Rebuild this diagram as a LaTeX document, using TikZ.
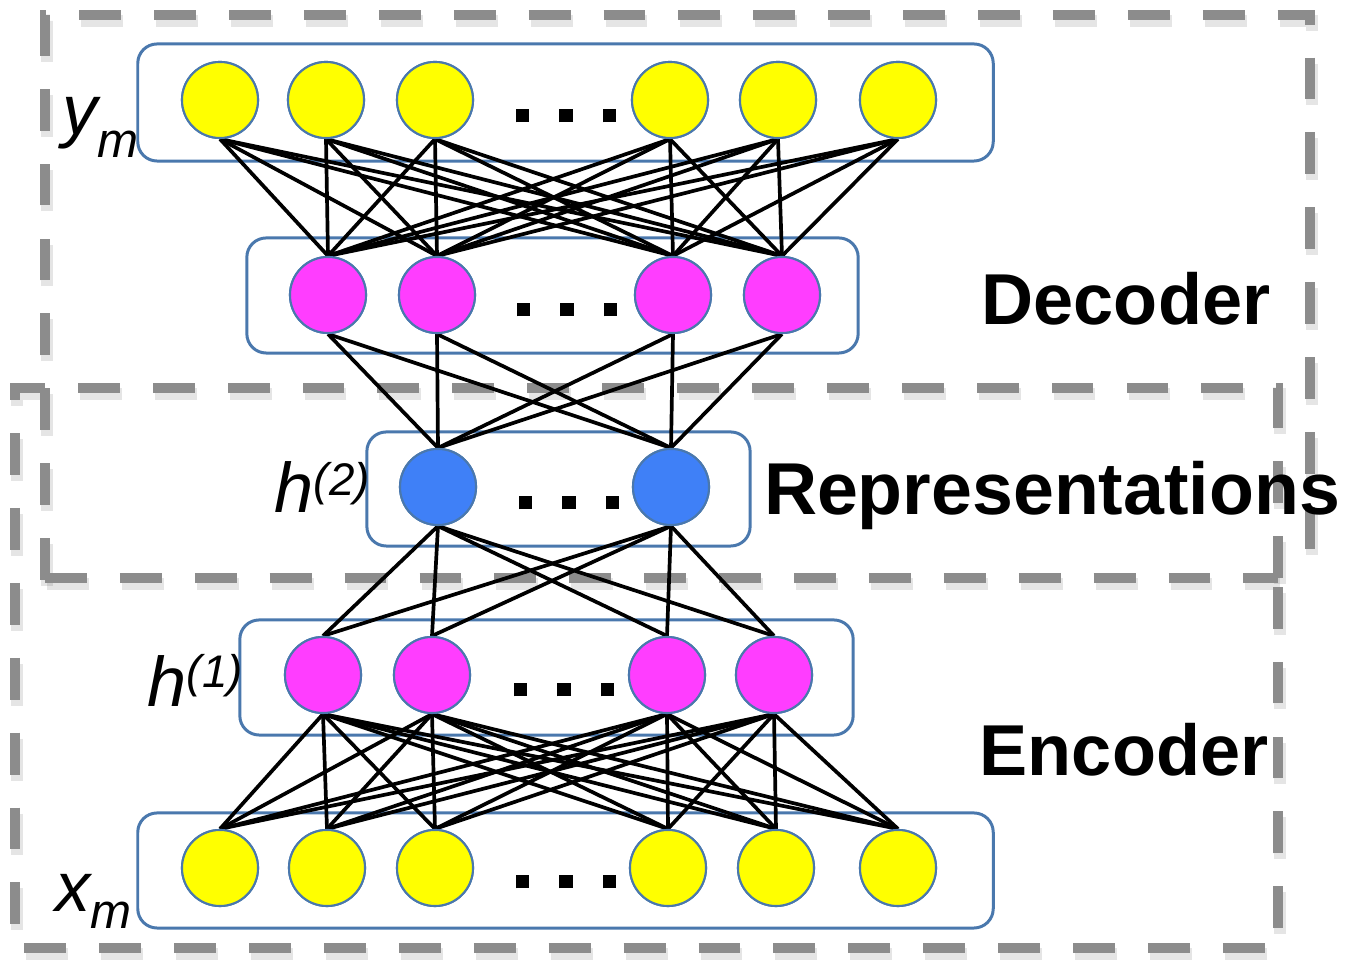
\documentclass[tikz,border=0pt]{standalone}
\usepackage{fontspec}
\setmainfont{Liberation Sans}

\definecolor{framegray}{HTML}{8C8C8C}
\definecolor{outline}{HTML}{4A78AD}
\definecolor{unityellow}{HTML}{FFFF00}
\definecolor{unitmagenta}{HTML}{FF3DFF}
\definecolor{unitblue}{HTML}{3F80F7}

% three square dots standing for the omitted units of a layer
\newcommand\ellipsisdots{\rule{3.7pt}{3.7pt}\hspace{8.6pt}\rule{3.7pt}{3.7pt}\hspace{8.6pt}\rule{3.7pt}{3.7pt}}

\begin{document}
\begin{tikzpicture}[x=0.01cm, y=-0.01cm,
  frame/.style={line width=2.85pt, draw=framegray, dash pattern=on 11.9pt off 9.4pt},
  frameshade/.style={line width=3.2pt, draw=black, opacity=0.10, dash pattern=on 11.9pt off 9.4pt},
  layerbox/.style={draw=outline, line width=0.85pt, rounded corners=5.5pt, inner sep=0pt},
  unit/.style={circle, draw=outline, line width=0.6pt, minimum size=0.76cm, inner sep=0pt},
  visible/.style={unit, fill=unityellow},
  hidden/.style={unit, fill=unitmagenta},
  code/.style={unit, fill=unitblue},
  link/.style={draw=black, line width=1.05pt},
  dots/.style={inner sep=0pt, anchor=center},
  section/.style={font=\fontsize{20.5}{24}\selectfont\bfseries, inner sep=0pt, anchor=base},
  varlabel/.style={font=\fontsize{20}{24}\selectfont\itshape, inner sep=0pt, anchor=base west}
]
\useasboundingbox (0,0) rectangle (1363,971);

% dashed group frames with a soft shade underneath
\begin{scope}[shift={(2,6)}]
  \draw[frameshade] (45,580) -- (45,15) -- (1310,15) -- (1310,580);
  \draw[frameshade] (1278,578) -- (1278,388) -- (15,388) -- (15,948) -- (1278,948) -- (1278,578);
  \draw[frameshade] (45,578) -- (1278,578);
\end{scope}
\draw[frame] (45,580) -- (45,15) -- (1310,15) -- (1310,580);
\draw[frame] (1278,578) -- (1278,388) -- (15,388) -- (15,948) -- (1278,948) -- (1278,578);
\draw[frame] (45,578) -- (1278,578);

% layer boxes
\node[layerbox, minimum width=8.55cm, minimum height=1.17cm] (outbox) at (565.5,102.5) {};
\node[layerbox, minimum width=6.11cm, minimum height=1.15cm] (decbox) at (552.5,295.5) {};
\node[layerbox, minimum width=3.83cm, minimum height=1.14cm] (repbox) at (558.5,489) {};
\node[layerbox, minimum width=6.13cm, minimum height=1.15cm] (encbox) at (546.5,677.5) {};
\node[layerbox, minimum width=8.55cm, minimum height=1.15cm] (inbox) at (565.5,870.5) {};

% unit positions
\coordinate (py1) at (220,100); \coordinate (py2) at (326,100); \coordinate (py3) at (435,100);
\coordinate (py4) at (670,100); \coordinate (py5) at (778,100); \coordinate (py6) at (898,100);
\coordinate (pd1) at (328,295); \coordinate (pd2) at (437,295); \coordinate (pd3) at (673,295); \coordinate (pd4) at (782,295);
\coordinate (pr1) at (438,487); \coordinate (pr2) at (671,487);
\coordinate (pe1) at (323,675); \coordinate (pe2) at (432,675); \coordinate (pe3) at (667,675); \coordinate (pe4) at (774,675);
\coordinate (px1) at (220,868); \coordinate (px2) at (327,868); \coordinate (px3) at (435,868);
\coordinate (px4) at (668,868); \coordinate (px5) at (776,868); \coordinate (px6) at (898,868);

% units
\foreach \i in {1,...,6} {
  \node[visible] (y\i) at (py\i) {};
  \node[visible] (x\i) at (px\i) {};
}
\foreach \i in {1,...,4} {
  \node[hidden] (d\i) at (pd\i) {};
  \node[hidden] (e\i) at (pe\i) {};
}
\foreach \i in {1,2} \node[code] (r\i) at (pr\i) {};

% full connections between neighbouring layers
\foreach \i in {1,...,6} \foreach \j in {1,...,4} \draw[link] (y\i.south) -- (d\j.north);
\foreach \i in {1,...,4} \foreach \j in {1,2} \draw[link] (d\i.south) -- (r\j.north);
\foreach \i in {1,2} \foreach \j in {1,...,4} \draw[link] (r\i.south) -- (e\j.north);
\foreach \i in {1,...,4} \foreach \j in {1,...,6} \draw[link] (e\i.south) -- (x\j.north);

% units again, over the connection ends
\foreach \i in {1,...,6} {
  \node[visible] at (py\i) {};
  \node[visible] at (px\i) {};
}
\foreach \i in {1,...,4} {
  \node[hidden] at (pd\i) {};
  \node[hidden] at (pe\i) {};
}
\foreach \i in {1,2} \node[code] at (pr\i) {};

% omitted units
\node[dots] (dotsy) at (566,116) {\ellipsisdots};
\node[dots] (dotsd) at (567,310) {\ellipsisdots};
\node[dots] (dotsr) at (569,503) {\ellipsisdots};
\node[dots] (dotse) at (564,690) {\ellipsisdots};
\node[dots] (dotsx) at (566,882) {\ellipsisdots};

% layer labels
\node[varlabel] (ylab) at (62,135) {y\raisebox{-6.3pt}{\fontsize{14}{14}\selectfont m}};
\node[varlabel] (h2lab) at (274,513) {h\raisebox{5.1pt}{\fontsize{13}{13}\selectfont (2)}};
\node[varlabel] (h1lab) at (147,707) {h\raisebox{5.4pt}{\fontsize{13}{13}\selectfont (1)}};
\node[varlabel] (xlab) at (55,912) {x\raisebox{-4.6pt}{\fontsize{14}{14}\selectfont m}};

% group names
\node[section] (decname) at (1126,325) {Decoder};
\node[section, font=\fontsize{20.9}{24}\selectfont\bfseries] (repname) at (1052,515) {Representations};
\node[section] (encname) at (1124,776) {Encoder};
\end{tikzpicture}
\end{document}
